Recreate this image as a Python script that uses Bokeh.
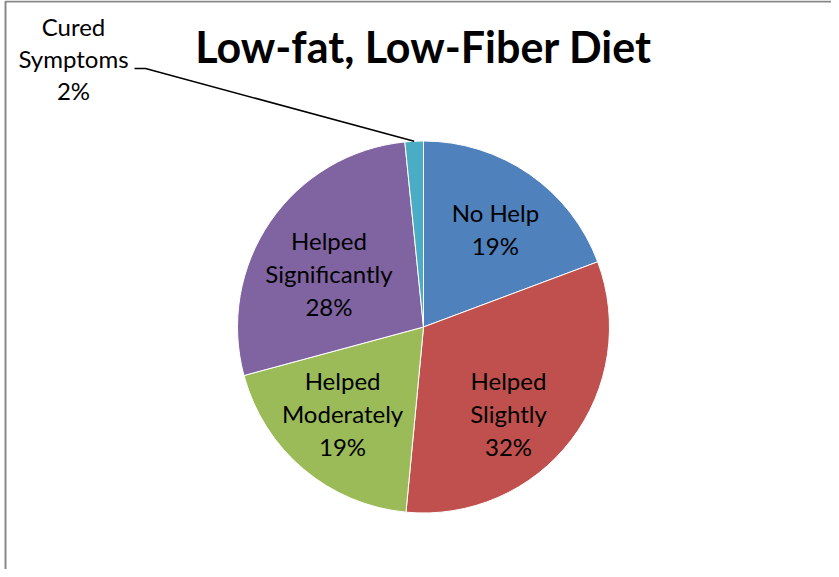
import math
from bokeh.plotting import figure
from bokeh.models import Range1d, ColumnDataSource
from bokeh.core.properties import value
from bokeh.embed import file_html
from bokeh.resources import INLINE

# ---- data ----
chart_title = "Low-fat, Low-Fiber Diet"
categories = ["No Help", "Helped Slightly", "Helped Moderately",
              "Helped Significantly", "Cured Symptoms"]
label_lines = [["No Help"], ["Helped", "Slightly"], ["Helped", "Moderately"],
               ["Helped", "Significantly"], ["Cured", "Symptoms"]]
values = [19.3, 32.2, 19.3, 27.6, 1.6]
colors = ["#4F81BD", "#C0504D", "#9BBB59", "#8064A2", "#4BACC6"]

# ---- layout (window pixels) ----
W, H = 831, 569
def X(wx):
    return wx - 8
def Y(wy):
    return H + 8 - wy

CX, CY, R = 431, 334.5, 186
FONT = "Lato"
LBL_SIZE = 24
TITLE_SIZE = 43
LINE_GAP = 33
CAP = 15.6
BASE_FIX = 0.37   # baseline correction (fraction of font size)
# nudges of inside labels (window px), and outside label for tiny slice
nudges = [(3, 2), (-11, 14), (-3, -5), (5, 16), None]
outside_label_center = (81, 67)

p = figure(width=W, height=H, x_range=Range1d(0, W), y_range=Range1d(0, H),
           output_backend="svg", toolbar_location=None,
           x_axis_type=None, y_axis_type=None, min_border=0,
           outline_line_color=None, background_fill_color="white",
           border_fill_color="white")
p.grid.grid_line_color = None

# chart area border (left and top visible)
p.line(x=[X(13), X(13), X(845)], y=[Y(590), Y(9), Y(9)],
       line_color="#888888", line_width=2)

total = sum(values)
starts, ends, mids = [], [], []
cum = 0.0
for v in values:
    s = math.pi / 2 - 2 * math.pi * cum / total
    cum += v
    e = math.pi / 2 - 2 * math.pi * cum / total
    starts.append(s)
    ends.append(e)
    mids.append((s + e) / 2)

src = ColumnDataSource(dict(x=[X(CX)] * len(values), y=[Y(CY)] * len(values),
                            start=starts, end=ends, color=colors, cat=categories))
p.wedge(x="x", y="y", radius=R, start_angle="start", end_angle="end",
        direction="clock", fill_color="color", line_color="white",
        line_width=1, source=src)

tx, ty, tt = [], [], []
for i, v in enumerate(values):
    pct = f"{round(v / total * 100)}%"
    lines = label_lines[i] + [pct]
    if nudges[i] is not None:
        lx = CX + 0.65 * R * math.cos(mids[i]) + nudges[i][0]
        ly = CY - 0.65 * R * math.sin(mids[i]) + nudges[i][1]
        gap = LINE_GAP
    else:
        lx, ly = outside_label_center
        gap = 32
        # leader line from label to slice edge
        ex = CX + R * math.cos(mids[i])
        ey = CY - R * math.sin(mids[i])
        p.line(x=[X(lx + 61), X(lx + 72), X(ex)],
               y=[Y(ly + 9), Y(ly + 9), Y(ey)],
               line_color="black", line_width=1.5)
    n = len(lines)
    first = ly - (n - 1) * gap / 2 + CAP / 2
    for k, t in enumerate(lines):
        tx.append(X(lx))
        ty.append(Y(first + k * gap - BASE_FIX * LBL_SIZE))
        tt.append(t)

p.text(x=tx, y=ty, text=tt, text_font=value(FONT), text_font_size=f"{LBL_SIZE}px",
       text_align="center", text_baseline="alphabetic", text_color="black")

p.text(x=[X(431)], y=[Y(70 - BASE_FIX * TITLE_SIZE)], text=[chart_title],
       text_font=value(FONT), text_font_size=f"{TITLE_SIZE}px",
       text_font_style="bold", text_align="center",
       text_baseline="alphabetic", text_color="black")

open("out.html", "w").write(file_html(p, INLINE))
